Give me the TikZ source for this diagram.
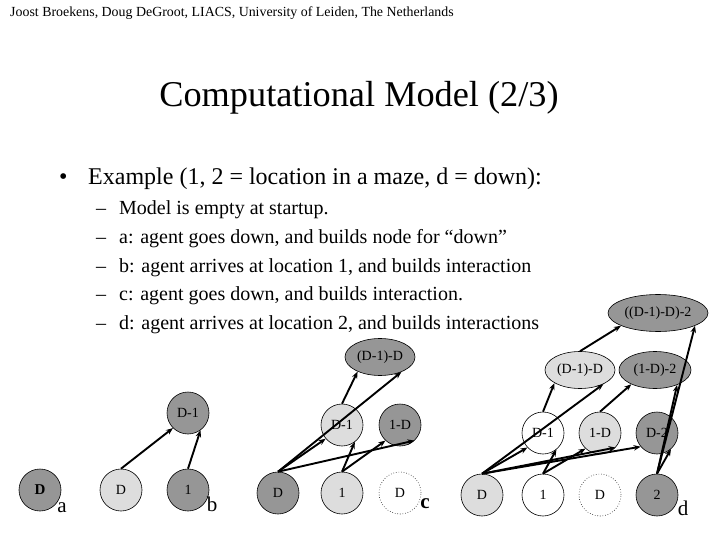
\documentclass[tikz,border=0pt]{standalone}
\usepackage{fontspec}
\setmainfont{Liberation Serif}
\usetikzlibrary{shapes.geometric,arrows.meta}
\definecolor{dk}{RGB}{150,150,150}
\definecolor{lt}{RGB}{221,221,221}
\tikzset{
  nd/.style={circle,draw=black,line width=0.6pt,minimum size=42pt,inner sep=0pt,font=\fontsize{14}{14}\selectfont},
  el/.style={ellipse,draw=black,line width=0.6pt,minimum width=70pt,minimum height=37pt,inner sep=0pt,font=\fontsize{14}{14}\selectfont},
  dkf/.style={fill=dk},
  ltf/.style={fill=lt},
  whf/.style={fill=white},
  dotb/.style={fill=white,dotted},
  arr/.style={-{Stealth[length=7pt,width=5.5pt]},line width=1.9pt},
  lab/.style={font=\fontsize{21}{21}\selectfont,inner sep=0pt},
  itm/.style={anchor=base west,inner sep=0pt,font=\fontsize{20}{20}\selectfont},
}
\begin{document}
\begin{tikzpicture}[x=1pt,y=-1pt]
\useasboundingbox (0,0) rectangle (720,540);
% texts
\node[anchor=base west,inner sep=0pt,font=\fontsize{13.9}{13.9}\selectfont] (hdr) at (10,17) {Joost Broekens, Doug DeGroot, LIACS, University of Leiden, The Netherlands};
\node[anchor=base,inner sep=0pt,font=\fontsize{36.3}{36.3}\selectfont] (title) at (359,107) {Computational Model (2/3)};
\node[anchor=base west,inner sep=0pt,font=\fontsize{24}{24}\selectfont] (bul) at (59,185) {•};
\node[anchor=base west,inner sep=0pt,font=\fontsize{24}{24}\selectfont] (ex) at (88,185) {Example (1, 2 = location in a maze, d = down):};
\node[itm] (dash1) at (96,214.7) {–};
\node[itm] (it1) at (119,214.7) {Model is empty at startup.};
\node[itm] (dash2) at (96,243.4) {–};
\node[itm] (it2) at (119,243.4) {a: agent goes down, and builds node for “down”};
\node[itm] (dash3) at (96,272.1) {–};
\node[itm] (it3) at (119,272.1) {b: agent arrives at location 1, and builds interaction};
\node[itm] (dash4) at (96,300.8) {–};
\node[itm] (it4) at (119,300.8) {c: agent goes down, and builds interaction.};
\node[itm] (dash5) at (96,329.5) {–};
\node[itm] (it5) at (119,329.5) {d: agent arrives at location 2, and builds interactions};
% panel a
\node[nd,dkf,font=\fontsize{15}{15}\selectfont\bfseries] (aD) at (40,490) {D};
\node[lab] (la) at (62,508) {a};
% panel b
\node[nd,ltf] (bD) at (121,490) {D};
\node[nd,dkf] (b1) at (188,490) {1};
\node[nd,dkf] (bD1) at (188,413) {D-1};
\node[lab] (lb) at (212,504) {b};
\draw[arr] (bD.north) -- (bD1.225);
\draw[arr] (b1.north) -- (bD1.306);
% panel c
\node[nd,dkf] (cD) at (278,493) {D};
\node[nd,ltf] (c1) at (342,493) {1};
\node[nd,dotb] (cDd) at (400,493) {D};
\node[nd,ltf] (cD1) at (342,425) {D-1};
\node[nd,dkf] (c1D) at (400,425) {1-D};
\node[el,dkf] (cD1D) at (380,357) {(D-1)-D};
\node[lab,font=\fontsize{21}{21}\selectfont\bfseries] (lc) at (425,504) {c};
\draw[arr] (cD.north) -- (cD1.220);
\draw[arr] (cD.north) -- (cD1D.325);
\draw[arr] (cD.north) -- (c1D.313);
\draw[arr] (c1.north) -- (cD1.307);
\draw[arr] (c1.north) -- (c1D.227);
\draw[arr] (cD1.north) -- (cD1D.213);
% panel d
\node[nd,ltf] (dD) at (482,495) {D};
\node[nd,whf] (d1) at (543,495) {1};
\node[nd,dotb] (dDd) at (600,495) {D};
\node[nd,dkf] (d2) at (657,495) {2};
\node[nd,whf] (dD1) at (543,433) {D-1};
\node[nd,ltf] (d1D) at (600,433) {1-D};
\node[nd,dkf] (dD2) at (657,433) {D-2};
\node[el,ltf] (dD1D) at (580,370) {(D-1)-D};
\node[el,dkf,minimum width=72pt] (d1D2) at (655,370) {(1-D)-2};
\node[el,dkf,minimum width=100pt] (dD1D2) at (658,313) {((D-1)-D)-2};
\node[lab] (ld) at (683,508) {d};
\draw[arr] (dD.north) -- (dD1.223);
\draw[arr] (dD.north) -- (dD1D.329);
\draw[arr] (dD.north) -- (d1D.317);
\draw[arr] (dD.north) -- (dD2.220);
\draw[arr] (d1.north) -- (dD1.309);
\draw[arr] (d1.north) -- (d1D.227);
\draw[arr] (dD1.north) -- (dD1D.207);
\draw[arr] (d1D.north) -- (d1D2.211);
\draw[arr] (d2.north) -- (dD2.311);
\draw[arr] (d2.north) -- (d1D2.326);
\draw[arr] (d2.north) -- (dD1D2.341);
\draw[arr] (dD1D.north) -- (dD1D2.199);
\end{tikzpicture}
\end{document}
